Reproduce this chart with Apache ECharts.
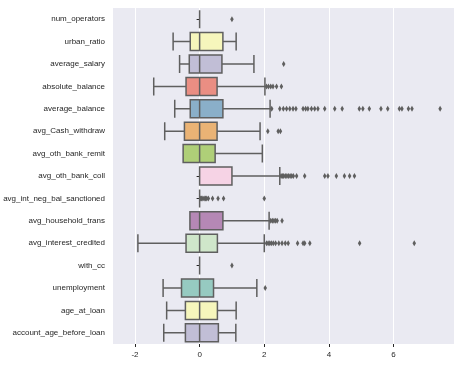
<!DOCTYPE html>
<html>
<head>
<meta charset="utf-8">
<script src="https://cdn.jsdelivr.net/npm/echarts@6/dist/echarts.min.js"></script>
<style>
  html, body { margin: 0; padding: 0; background: #ffffff; }
  #chart { width: 455px; height: 366px; }
</style>
</head>
<body>
<div id="chart"></div>
<script>
const categories = [
  'num_operators', 'urban_ratio', 'average_salary', 'absolute_balance',
  'average_balance', 'avg_Cash_withdraw', 'avg_oth_bank_remit', 'avg_oth_bank_coll',
  'avg_int_neg_bal_sanctioned', 'avg_household_trans', 'avg_interest_credited',
  'with_cc', 'unemployment', 'age_at_loan', 'account_age_before_loan'
];
const whiskerLow  = [0, -0.82, -0.62, -1.42, -0.77, -1.08, -0.51, 0, 0, -0.30, -1.91, 0, -1.13, -1.02, -1.11];
const q1Values    = [0, -0.29, -0.32, -0.42, -0.29, -0.47, -0.51, 0, 0, -0.30, -0.42, 0, -0.56, -0.44, -0.44];
const medians     = [0, 0, 0, 0, 0, 0, 0, 0, 0, 0, 0, 0, 0, 0, 0];
const q3Values    = [0, 0.72, 0.69, 0.54, 0.72, 0.54, 0.48, 1.00, 0, 0.72, 0.55, 0, 0.43, 0.55, 0.58];
const whiskerHigh = [0, 1.13, 1.68, 2.02, 2.18, 1.87, 1.94, 2.48, 0, 2.15, 2.00, 0, 1.77, 1.13, 1.12];
const outliers = [
  [1.0],
  [],
  [2.6],
  [2.07, 2.13, 2.2, 2.27, 2.38, 2.53],
  [2.23, 2.48, 2.59, 2.69, 2.79, 2.89, 2.98, 3.20, 3.28, 3.35, 3.46, 3.56, 3.66, 3.87, 4.18, 4.41, 4.94, 5.05, 5.25, 5.61, 5.82, 6.18, 6.26, 6.46, 6.57, 7.44],
  [2.11, 2.43, 2.5],
  [],
  [2.52, 2.56, 2.6, 2.65, 2.7, 2.75, 2.8, 2.85, 2.9, 3.0, 3.25, 3.87, 3.97, 4.23, 4.48, 4.64, 4.79],
  [0.03, 0.06, 0.10, 0.14, 0.18, 0.22, 0.27, 0.40, 0.57, 0.74, 2.0],
  [2.2, 2.25, 2.3, 2.35, 2.4, 2.55],
  [2.07, 2.12, 2.17, 2.22, 2.28, 2.35, 2.45, 2.55, 2.65, 2.74, 3.03, 3.2, 3.25, 3.41, 4.95, 6.64],
  [1.0],
  [2.03],
  [],
  []
];
const xTicks = [-2, 0, 2, 4, 6];

// Set3 palette, desaturated like seaborn (saturation * 0.75)
const set3 = ['#8dd3c7', '#ffffb3', '#bebada', '#fb8072', '#80b1d3', '#fdb462',
              '#b3de69', '#fccde5', '#d9d9d9', '#bc80bd', '#ccebc5', '#ffed6f'];
function desat(hex, prop) {
  let r = parseInt(hex.slice(1, 3), 16) / 255, g = parseInt(hex.slice(3, 5), 16) / 255, b = parseInt(hex.slice(5, 7), 16) / 255;
  const mx = Math.max(r, g, b), mn = Math.min(r, g, b);
  const l = (mx + mn) / 2;
  let h = 0, s = 0;
  const d = mx - mn;
  if (d > 0) {
    s = l > 0.5 ? d / (2 - mx - mn) : d / (mx + mn);
    if (mx === r) h = ((g - b) / d + (g < b ? 6 : 0));
    else if (mx === g) h = (b - r) / d + 2;
    else h = (r - g) / d + 4;
    h /= 6;
  }
  s *= prop;
  function hue2rgb(p, q, t) {
    if (t < 0) t += 1; if (t > 1) t -= 1;
    if (t < 1 / 6) return p + (q - p) * 6 * t;
    if (t < 1 / 2) return q;
    if (t < 2 / 3) return p + (q - p) * (2 / 3 - t) * 6;
    return p;
  }
  const q = l < 0.5 ? l * (1 + s) : l + s - l * s;
  const p = 2 * l - q;
  const rr = Math.round(hue2rgb(p, q, h + 1 / 3) * 255);
  const gg = Math.round(hue2rgb(p, q, h) * 255);
  const bb = Math.round(hue2rgb(p, q, h - 1 / 3) * 255);
  return 'rgb(' + rr + ',' + gg + ',' + bb + ')';
}
const gray = '#5f5f5f';

const boxData = categories.map((c, i) => ({
  value: [whiskerLow[i], q1Values[i], medians[i], q3Values[i], whiskerHigh[i]],
  itemStyle: { color: desat(set3[i % set3.length], 0.75), borderColor: gray, borderWidth: 1.5 }
}));
const flierData = [];
outliers.forEach((arr, i) => arr.forEach(v => flierData.push([v, i])));

const chart = echarts.init(document.getElementById('chart'), null, { renderer: 'canvas' });
chart.setOption({
  animation: false,
  backgroundColor: '#ffffff',
  grid: {
    left: 113, right: 1, top: 8, bottom: 22,
    show: true, backgroundColor: '#eaeaf2', borderWidth: 0
  },
  xAxis: {
    type: 'value',
    min: -2.68, max: 7.87,
    axisLine: { show: false },
    axisTick: { show: true, length: 3, lineStyle: { color: '#262626', width: 1 }, customValues: xTicks },
    axisLabel: { customValues: xTicks, color: '#262626', fontSize: 8, fontFamily: 'Liberation Sans, Arial, sans-serif', margin: 7 },
    splitLine: { show: true, lineStyle: { color: '#ffffff', width: 1 } }
  },
  yAxis: {
    type: 'category',
    data: categories,
    inverse: true,
    axisLine: { show: false },
    axisTick: { show: true, length: 3, alignWithLabel: true, lineStyle: { color: '#262626', width: 1 } },
    axisLabel: { color: '#262626', fontSize: 8, fontFamily: 'Liberation Sans, Arial, sans-serif', margin: 8, interval: 0 },
    splitLine: { show: false }
  },
  series: [
    {
      type: 'boxplot',
      data: boxData,
      boxWidth: [18, 18],
      itemStyle: { borderColor: gray, borderWidth: 1.5 },
      emphasis: { disabled: true }
    },
    {
      type: 'scatter',
      data: flierData,
      symbol: 'diamond',
      symbolSize: [3.5, 6],
      itemStyle: { color: gray, opacity: 1 },
      emphasis: { disabled: true },
      z: 3
    }
  ]
});
</script>
</body>
</html>
